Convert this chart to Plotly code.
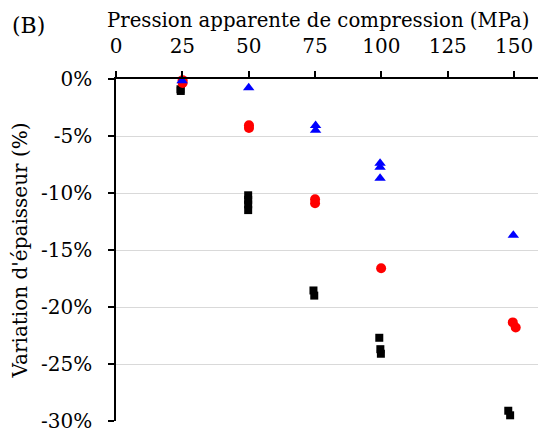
import plotly.graph_objects as go

# Black squares
black_x = [24.3, 24.4, 49.8, 49.8, 49.8, 49.8, 74.4, 74.7, 99.2, 99.6, 99.8, 147.8, 148.5]
black_y = [-0.9, -1.05, -10.2, -10.6, -11.0, -11.5, -18.55, -19.0, -22.7, -23.7, -24.1, -29.1, -29.5]
# Red circles
red_x = [25.1, 25.1, 50.1, 50.1, 75.0, 75.0, 99.9, 149.5, 150.6]
red_y = [-0.1, -0.35, -4.05, -4.3, -10.55, -10.9, -16.6, -21.35, -21.8]
# Blue triangles
blue_x = [24.9, 50.0, 75.2, 75.2, 99.5, 99.5, 99.5, 149.7]
blue_y = [-0.15, -0.77, -4.07, -4.5, -7.4, -7.75, -8.7, -13.7]

x_ticks = [0, 25, 50, 75, 100, 125, 150]
y_ticks = [0, -5, -10, -15, -20, -25, -30]
y_tick_labels = ["0%", "-5%", "-10%", "-15%", "-20%", "-25%", "-30%"]

x_title = "Pression apparente de compression (MPa)"
y_title = "Variation d'épaisseur (%)"
panel_label = "(B)"

FONT = "DejaVu Serif"

fig = go.Figure()
fig.add_trace(go.Scatter(x=black_x, y=black_y, mode="markers",
                         marker=dict(symbol="square", size=8, color="black"),
                         cliponaxis=False, showlegend=False))
fig.add_trace(go.Scatter(x=red_x, y=red_y, mode="markers",
                         marker=dict(symbol="circle", size=10, color="red"),
                         cliponaxis=False, showlegend=False))
fig.add_trace(go.Scatter(x=blue_x, y=blue_y, mode="markers",
                         marker=dict(symbol="triangle-up", size=10, color="blue"),
                         cliponaxis=False, showlegend=False))

fig.update_layout(
    width=538, height=435,
    margin=dict(l=116, r=0, t=79, b=14),
    paper_bgcolor="white", plot_bgcolor="white",
    font=dict(family=FONT, size=20, color="black"),
    xaxis=dict(
        side="top", range=[0, 159], tickvals=x_ticks,
        showgrid=False, zeroline=False,
        showline=True, linecolor="black", linewidth=1.5,
        ticks="outside", ticklen=6, tickwidth=1.5, tickcolor="black",
        ticklabelstandoff=10,
    ),
    yaxis=dict(
        range=[-30, 0], tickvals=y_ticks, ticktext=y_tick_labels,
        showgrid=True, gridcolor="#d9d9d9", gridwidth=1,
        zeroline=False,
        showline=True, linecolor="black", linewidth=1.5,
        ticks="outside", ticklen=6, tickwidth=1.5, tickcolor="black",
        ticklabelstandoff=12,
        title=dict(text=y_title, standoff=8, font=dict(size=20)),
    ),
    annotations=[
        dict(text=panel_label, x=-0.251, y=1.155, xref="paper", yref="paper",
             xanchor="left", yanchor="middle", showarrow=False,
             font=dict(size=22)),
        dict(text=x_title, x=0.4787, y=1.1725, xref="paper", yref="paper",
             xanchor="center", yanchor="middle", showarrow=False,
             font=dict(size=19.7)),
    ],
)
fig.write_html("out.html", config={"displayModeBar": False},
               post_script="document.body.style.margin='0';")
